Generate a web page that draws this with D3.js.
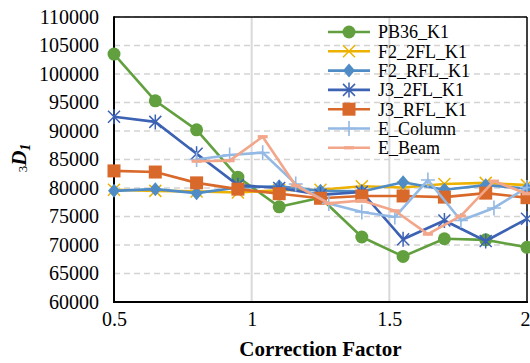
<!DOCTYPE html>
<html><head><meta charset="utf-8">
<script src="https://cdn.jsdelivr.net/npm/d3@7/dist/d3.min.js"></script>
<style>body{margin:0;background:#fff}svg{display:block}svg text{font-family:"Liberation Serif","Times New Roman",serif}</style>
</head><body>
<svg id="c" width="530" height="363"></svg>
<script>
const xMain = [0.5,0.65,0.8,0.95,1.1,1.25,1.4,1.55,1.7,1.85,2.0];
const xE = [0.8,0.92,1.04,1.16,1.28,1.40,1.52,1.64,1.76,1.88,2.0];
const PB36_K1 = [103500,95300,90200,81900,76700,78300,71400,68000,71100,70900,69600];
const F2_2FL_K1 = [79700,79500,79400,79200,79600,79700,80300,80100,80700,80900,80500];
const F2_RFL_K1 = [79500,79800,79100,80100,80300,79500,79400,81000,79700,80500,79900];
const J3_2FL_K1 = [92500,91600,86000,80500,80000,78800,79300,71000,74300,70700,74600];
const J3_RFL_K1 = [83000,82800,80900,79800,79000,78200,78600,78600,78400,79100,78300];
const E_Column = [85000,85800,86200,80700,77300,75800,74900,81400,74300,76500,80100];
const E_Beam = [84700,84800,89000,80400,77300,77800,76000,71900,75100,81200,79000];
const yTicks = [60000,65000,70000,75000,80000,85000,90000,95000,100000,105000,110000];
const xTicks = [0.5,1,1.5,2];

const series = [
  {name:"PB36_K1", xs:xMain, ys:PB36_K1, color:"#62a03f", marker:"circle"},
  {name:"F2_2FL_K1", xs:xMain, ys:F2_2FL_K1, color:"#edb200", marker:"x"},
  {name:"F2_RFL_K1", xs:xMain, ys:F2_RFL_K1, color:"#4f8cc6", marker:"diamond"},
  {name:"J3_2FL_K1", xs:xMain, ys:J3_2FL_K1, color:"#3c62b3", marker:"star"},
  {name:"J3_RFL_K1", xs:xMain, ys:J3_RFL_K1, color:"#d9692a", marker:"square"},
  {name:"E_Column", xs:xE, ys:E_Column, color:"#93b9e4", marker:"plus"},
  {name:"E_Beam", xs:xE, ys:E_Beam, color:"#f2a68a", marker:"dash"}
];

const svg = d3.select("#c");
const L=114, R=527, T=17, B=302;
const x = d3.scaleLinear().domain([0.5,2]).range([L,R]);
const y = d3.scaleLinear().domain([60000,110000]).range([B,T]);
const font = "'Liberation Serif','Times New Roman',serif";

// horizontal dashed gridlines
svg.append("g").selectAll("line").data(yTicks.slice(1)).join("line")
  .attr("x1",L).attr("x2",R).attr("y1",d=>y(d)).attr("y2",d=>y(d))
  .attr("stroke","#d3d3d3").attr("stroke-width",1.3).attr("stroke-dasharray","6,4");
// vertical gridlines
svg.append("g").selectAll("line").data([1,1.5]).join("line")
  .attr("x1",d=>x(d)).attr("x2",d=>x(d)).attr("y1",T).attr("y2",B)
  .attr("stroke","#d9d9d9").attr("stroke-width",2);

// axes
const yAxis = svg.append("g").attr("transform",`translate(${L},0)`)
  .call(d3.axisLeft(y).tickValues(yTicks).tickSize(0).tickPadding(15).tickFormat(d3.format("d")));
const xAxis = svg.append("g").attr("transform",`translate(0,${B})`)
  .call(d3.axisBottom(x).tickValues(xTicks).tickSize(0).tickPadding(10).tickFormat(d=>String(d)));
[yAxis,xAxis].forEach(g=>{
  g.attr("font-family",font);
  g.select(".domain").remove();
  g.selectAll("text").attr("font-family",font).attr("font-size",20).attr("fill","#000");
});
// keep last x tick label inside the window
xAxis.selectAll(".tick").filter(d=>d===2).select("text").attr("text-anchor","end").attr("x",3);
// frame
svg.append("line").attr("x1",L).attr("x2",R).attr("y1",T).attr("y2",T).attr("stroke","#000").attr("stroke-width",1.5);
svg.append("line").attr("x1",R).attr("x2",R).attr("y1",T).attr("y2",B).attr("stroke","#000").attr("stroke-width",1.5);
svg.append("line").attr("x1",L).attr("x2",L).attr("y1",T-0.75).attr("y2",B+1).attr("stroke","#000").attr("stroke-width",2);
svg.append("line").attr("x1",L-1).attr("x2",R+1).attr("y1",B).attr("y2",B).attr("stroke","#000").attr("stroke-width",2);

function drawMarker(g, type, cx, cy, color){
  const s = 6;
  if(type==="circle") g.append("circle").attr("cx",cx).attr("cy",cy).attr("r",6.5).attr("fill",color);
  else if(type==="square") g.append("rect").attr("x",cx-6.5).attr("y",cy-6.5).attr("width",13).attr("height",13).attr("fill",color);
  else if(type==="diamond") g.append("path").attr("d",`M${cx},${cy-7}L${cx+6},${cy}L${cx},${cy+7}L${cx-6},${cy}Z`).attr("fill",color);
  else if(type==="x") g.append("path").attr("d",`M${cx-s},${cy-s}L${cx+s},${cy+s}M${cx-s},${cy+s}L${cx+s},${cy-s}`).attr("stroke",color).attr("stroke-width",1.5).attr("fill","none");
  else if(type==="star") g.append("path").attr("d",`M${cx-s},${cy-s}L${cx+s},${cy+s}M${cx-s},${cy+s}L${cx+s},${cy-s}M${cx},${cy-7.5}L${cx},${cy+7.5}`).attr("stroke",color).attr("stroke-width",1.5).attr("fill","none");
  else if(type==="plus") g.append("path").attr("d",`M${cx-7},${cy}L${cx+7},${cy}M${cx},${cy-7.5}L${cx},${cy+7.5}`).attr("stroke",color).attr("stroke-width",1.6).attr("fill","none");
  else if(type==="dash") g.append("path").attr("d",`M${cx-5},${cy}L${cx+5},${cy}`).attr("stroke",color).attr("stroke-width",3.2).attr("fill","none");
}

const line = d3.line().x(d=>x(d[0])).y(d=>y(d[1]));
const plot = svg.append("g");
series.forEach(s=>{
  const pts = s.xs.map((v,i)=>[v,s.ys[i]]);
  const g = plot.append("g");
  g.append("path").attr("d",line(pts)).attr("fill","none").attr("stroke",s.color).attr("stroke-width",2.6).attr("stroke-linejoin","round");
  pts.forEach(p=>drawMarker(g,s.marker,x(p[0]),y(p[1]),s.color));
});

// legend
const leg = svg.append("g");
series.forEach((s,i)=>{
  const ly = 32 + i*19.3;
  leg.append("line").attr("x1",328).attr("x2",370).attr("y1",ly).attr("y2",ly).attr("stroke",s.color).attr("stroke-width",2.6);
  drawMarker(leg,s.marker,349,ly,s.color);
  leg.append("text").attr("x",378).attr("y",ly).attr("dy","0.35em").attr("font-family",font).attr("font-size",18).attr("fill","#000").text(s.name);
});

// axis titles
svg.append("text").attr("x",320.5).attr("y",356).attr("text-anchor","middle")
  .attr("font-family",font).attr("font-size",21).attr("font-weight","bold").text("Correction Factor");
const yl = svg.append("text").attr("transform","translate(26,158) rotate(-90)").attr("text-anchor","middle")
  .attr("font-family",font).attr("fill","#000");
yl.append("tspan").attr("font-size",13).attr("dy",1).text("3");
yl.append("tspan").attr("font-size",21).attr("font-weight","bold").attr("font-style","italic").attr("dy",-1).text("D");
yl.append("tspan").attr("font-size",14).attr("font-weight","bold").attr("font-style","italic").attr("dy",4).text("1");
</script>
</body></html>
